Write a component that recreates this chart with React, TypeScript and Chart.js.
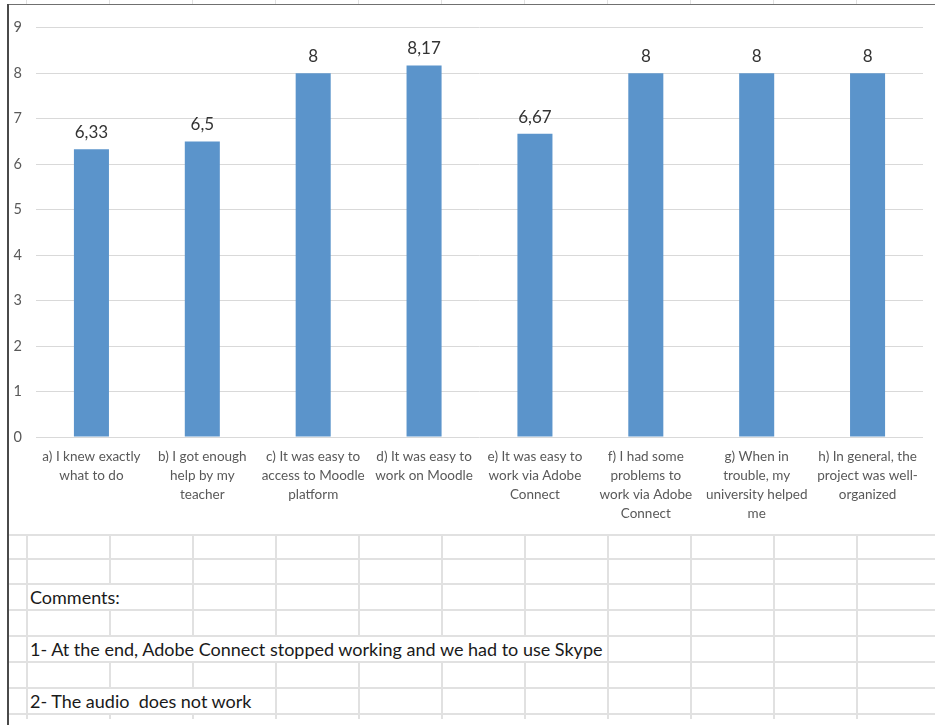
import React, { useEffect, useRef } from "react";
import { Chart, registerables } from "chart.js";

Chart.register(...registerables);

const categories: string[][] = [
  ["a) I knew exactly", "what to do"],
  ["b) I got enough", "help by my", "teacher"],
  ["c) It was easy to", "access to Moodle", "platform"],
  ["d) It was easy to", "work on Moodle"],
  ["e) It was easy to", "work via Adobe", "Connect"],
  ["f) I had some", "problems to", "work via Adobe", "Connect"],
  ["g) When in", "trouble, my", "university helped", "me"],
  ["h) In general, the", "project was well-", "organized"],
];
const scores: number[] = [6.33, 6.5, 8, 8.17, 6.67, 8, 8, 8];
const yTicks: number[] = [0, 1, 2, 3, 4, 5, 6, 7, 8, 9];

const comments: string[] = [
  "Comments:",
  "1- At the end, Adobe Connect stopped working and we had to use Skype",
  "2- The audio  does not work",
];

// sheet layout (styling only)
const COL_LINES = [26, 109, 192, 275, 358, 441, 524, 607, 690, 773, 856];
const ROW_LINES = [534, 558, 583, 609, 635, 661, 687, 713];
const COMMENT_ROWS = [2, 4, 6];
const COMMENT_END = [192, 607, 275];

const fmt = (v: number) => String(v).replace(".", ",");

const labelPlugin = {
  id: "barValueLabels",
  afterDatasetsDraw(chart: any) {
    const ctx = chart.ctx;
    const meta = chart.getDatasetMeta(0);
    ctx.save();
    ctx.font = "17px Lato";
    ctx.fillStyle = "#333333";
    ctx.textAlign = "center";
    ctx.textBaseline = "bottom";
    meta.data.forEach((bar: any, i: number) => {
      ctx.fillText(fmt(scores[i]), bar.x, bar.y - 8);
    });
    ctx.restore();
  },
};

function BarChart() {
  const ref = useRef<HTMLCanvasElement | null>(null);
  useEffect(() => {
    if (!ref.current) return;
    const chart = new Chart(ref.current, {
      type: "bar",
      data: {
        labels: categories,
        datasets: [
          {
            data: scores,
            backgroundColor: "#5B94CB",
            borderWidth: 0,
            barPercentage: 0.316,
            categoryPercentage: 1,
          },
        ],
      },
      options: {
        responsive: false,
        animation: false,
        layout: { padding: { left: 0, right: 12, top: 18, bottom: 0 } },
        plugins: { legend: { display: false }, tooltip: { enabled: false } },
        scales: {
          x: {
            grid: { display: false, drawTicks: false },
            border: { display: false },
            ticks: {
              autoSkip: false,
              maxRotation: 0,
              minRotation: 0,
              padding: 10,
              color: "#595959",
              font: { family: "Lato", size: 13.5, lineHeight: 1.41 },
            },
            afterFit: (s: any) => {
              s.height = 96;
            },
          },
          y: {
            min: 0,
            max: 9,
            afterBuildTicks: (s: any) => {
              s.ticks = yTicks.map((v) => ({ value: v }));
            },
            grid: { color: "#D9D9D9", lineWidth: 1, drawTicks: false },
            border: { display: false },
            ticks: {
              padding: 14,
              color: "#595959",
              font: { family: "Lato", size: 14.5 },
            },
            afterFit: (s: any) => {
              s.width = 28;
            },
          },
        },
      },
      plugins: [labelPlugin],
    });
    return () => chart.destroy();
  }, []);
  return (
    <canvas
      ref={ref}
      width={927}
      height={528}
      style={{ position: "absolute", left: 8, top: 5, width: 927, height: 528, background: "#fff" }}
    />
  );
}

export default function App() {
  useEffect(() => {
    document.body.style.margin = "0";
  }, []);
  const lineColor = "#E1E1E1";
  const bottom = 719;
  return (
    <div style={{ position: "relative", width: 935, height: 725, background: "#fff", overflow: "hidden" }}>
      {COL_LINES.map((x) => (
        <div key={"t" + x} style={{ position: "absolute", left: x, top: 0, width: 1, height: 4, background: lineColor }} />
      ))}
      {ROW_LINES.map((y) => (
        <div key={"h" + y} style={{ position: "absolute", left: 8, top: y, width: 927, height: 2, background: lineColor }} />
      ))}
      {COL_LINES.map((x) => (
        <div key={"v" + x} style={{ position: "absolute", left: x, top: ROW_LINES[0], width: 2, height: bottom - ROW_LINES[0], background: lineColor }} />
      ))}
      {comments.map((c, i) => {
        const r = COMMENT_ROWS[i];
        const top = ROW_LINES[r] + 2;
        const h = ROW_LINES[r + 1] - top;
        return (
          <div
            key={"c" + i}
            style={{
              position: "absolute",
              left: COL_LINES[0] + 2,
              top,
              height: h,
              width: COMMENT_END[i] - COL_LINES[0] - 2,
              background: "#fff",
              fontFamily: "Lato",
              fontSize: 18,
              lineHeight: h + "px",
              color: "#1a1a1a",
              paddingLeft: 2,
              whiteSpace: "pre",
              boxSizing: "border-box",
            }}
          >
            {c}
          </div>
        );
      })}
      <BarChart />
      <div style={{ position: "absolute", left: 7, top: 4, width: 928, height: 1, background: "#707070" }} />
      <div style={{ position: "absolute", left: 7, top: 4, width: 1.5, height: 721, background: "#4a4a4a" }} />
    </div>
  );
}
